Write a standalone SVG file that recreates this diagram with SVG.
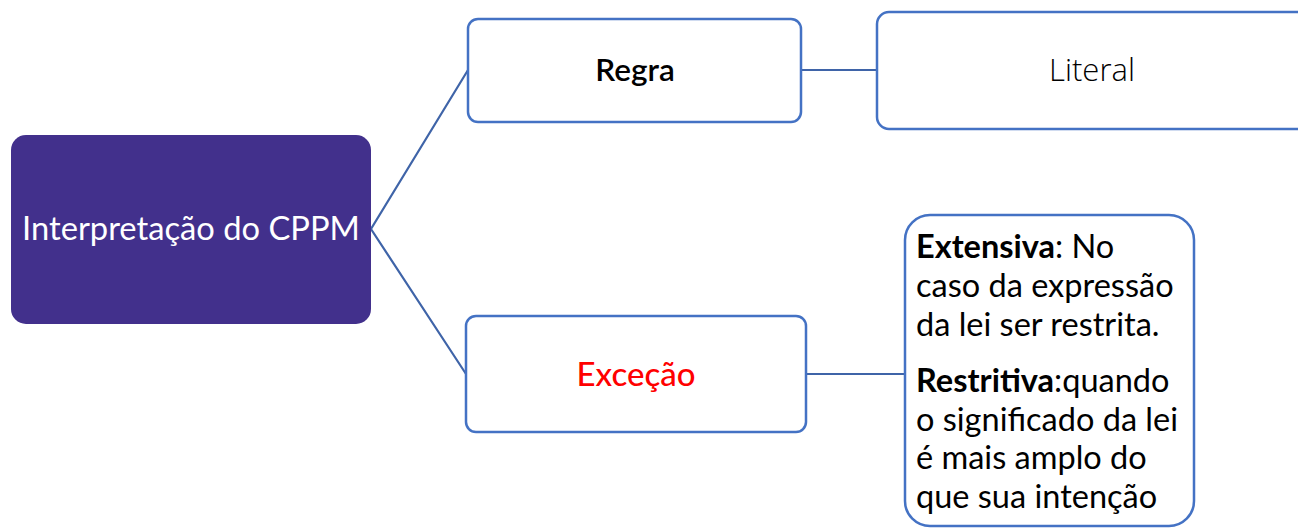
<svg xmlns="http://www.w3.org/2000/svg" width="1298" height="528" viewBox="0 0 1298 528">
<style>
.box{fill:#ffffff;stroke:#4472c4;stroke-width:2.5}
.conn{stroke:#3f64a8;stroke-width:2.2;fill:none}
.t{font-family:Lato,"Noto Sans",sans-serif;font-size:32.5px;fill:#000}
.b{font-weight:bold}
</style>
<rect width="1298" height="528" fill="#ffffff"/>
<g id="connectors">
<polyline class="conn" points="468,70 371,229 466,374"/>
<line class="conn" x1="801" y1="70" x2="877" y2="70"/>
<line class="conn" x1="806" y1="374" x2="905" y2="374"/>
</g>
<g id="central">
<rect x="11" y="135" width="360" height="189" rx="15" fill="#42308c"/>
<text class="t" x="191" y="240" text-anchor="middle" style="fill:#fff;font-size:32.7px">Interpretação do CPPM</text>
</g>
<g id="regra">
<rect class="box" x="468" y="19" width="333" height="103" rx="10"/>
<text class="t" x="635" y="81" text-anchor="middle" style="font-weight:600;font-size:31.5px">Regra</text>
</g>
<g id="literal">
<rect class="box" x="877" y="12" width="440" height="117" rx="12"/>
<text x="1092" y="81" text-anchor="middle" style="font-family:'Open Sans','Noto Sans',sans-serif;font-size:31px;font-weight:300;fill:#000">Literal</text>
</g>
<g id="excecao">
<rect class="box" x="466" y="316" width="340" height="116" rx="10"/>
<text class="t" x="636" y="386" text-anchor="middle" style="fill:#ff0000;font-weight:500;font-size:33px">Exceção</text>
</g>
<g id="detalhe">
<rect class="box" x="905" y="215" width="289" height="311" rx="25"/>
<text class="t" x="916" y="258"><tspan class="b">Extensiva</tspan>: No</text>
<text class="t" x="916" y="297">caso da expressão</text>
<text class="t" x="916" y="336">da lei ser restrita.</text>
<text class="t" x="916" y="392"><tspan class="b">Restritiva</tspan>:quando</text>
<text class="t" x="916" y="431">o significado da lei</text>
<text class="t" x="916" y="469">é mais amplo do</text>
<text class="t" x="916" y="508">que sua intenção</text>
</g>
</svg>
